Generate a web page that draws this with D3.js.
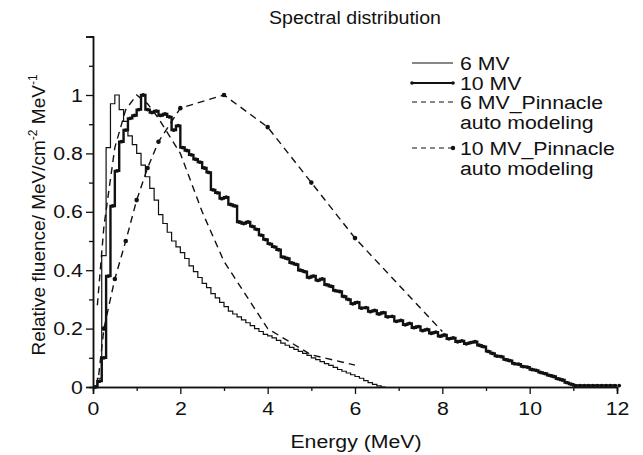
<!DOCTYPE html>
<html><head><meta charset="utf-8">
<script src="https://cdn.jsdelivr.net/npm/d3@7"></script>
<style>body{margin:0;background:#fff;} text{font-family:"Liberation Sans",Arial,sans-serif;fill:#111;}</style>
</head><body><svg id="c" width="643" height="455"></svg>
<script>
// ---- data ----
const xTicks = [0, 2, 4, 6, 8, 10, 12];
const yTicks = [0, 0.2, 0.4, 0.6, 0.8, 1, 1.2];
const yTickLabels = ["0", "0.2", "0.4", "0.6", "0.8", "1", ""];
const seriesNames = ["6 MV", "10 MV", "6 MV_Pinnacle|auto modeling", "10 MV_Pinnacle|auto modeling"];

// 6 MV measured (bins of 0.1 MeV starting at 0)
const e6 = d3.range(0, 6.75, 0.1).map(v => +v.toFixed(2));
const mv6 = [0, 0.03, 0.45, 0.82, 0.97, 1.0, 0.95, 0.91, 0.86, 0.83,
  0.80, 0.76, 0.72, 0.68, 0.64, 0.59, 0.56, 0.53, 0.50, 0.48,
  0.46, 0.44, 0.415, 0.395, 0.375, 0.355, 0.34, 0.32, 0.305, 0.29,
  0.275, 0.26, 0.25, 0.24, 0.23, 0.22, 0.21, 0.20, 0.19, 0.18,
  0.175, 0.168, 0.16, 0.15, 0.143, 0.136, 0.129, 0.122, 0.115, 0.108,
  0.10, 0.094, 0.087, 0.08, 0.074, 0.067, 0.06, 0.054, 0.048, 0.042,
  0.036, 0.03, 0.022, 0.015, 0.009, 0.004, 0, 0];

// 10 MV measured (bins of 0.1 MeV starting at 0)
const e10 = d3.range(0, 12.05, 0.1).map(v => +v.toFixed(2));
const mv10 = [0, 0.02, 0.10, 0.38, 0.62, 0.74, 0.84, 0.88, 0.92, 0.93,
  0.95, 1.0, 0.95, 0.94, 0.945, 0.93, 0.935, 0.925, 0.88, 0.895,
  0.82, 0.81, 0.795, 0.78, 0.77, 0.75, 0.735, 0.675, 0.665, 0.645,
  0.65, 0.625, 0.62, 0.565, 0.56, 0.565, 0.55, 0.54, 0.52, 0.505,
  0.49, 0.48, 0.47, 0.445, 0.44, 0.425, 0.42, 0.40, 0.395, 0.375,
  0.38, 0.365, 0.37, 0.35, 0.345, 0.33, 0.327, 0.31, 0.30, 0.285,
  0.29, 0.27, 0.272, 0.258, 0.262, 0.25, 0.255, 0.24, 0.242, 0.225,
  0.228, 0.213, 0.218, 0.203, 0.207, 0.193, 0.197, 0.184, 0.188, 0.174,
  0.178, 0.165, 0.168, 0.155, 0.158, 0.148, 0.152, 0.155, 0.143, 0.138,
  0.122, 0.115, 0.106, 0.104, 0.094, 0.09, 0.08, 0.078, 0.07, 0.068,
  0.06, 0.057, 0.05, 0.046, 0.04, 0.036, 0.028, 0.024, 0.015, 0.01,
  0.005, 0.005, 0.005, 0.005, 0.005, 0.005, 0.005, 0.005, 0.005, 0.005, 0.005];

// Pinnacle auto-modeling spectra
const eP6 = [0.1, 0.25, 0.5, 0.75, 1.0, 1.25, 1.5, 2, 2.5, 3, 4, 5, 6];
const p6 = [0.28, 0.55, 0.82, 0.95, 1.0, 0.97, 0.92, 0.80, 0.60, 0.43, 0.20, 0.11, 0.075];
const eP10 = [0.1, 0.25, 0.5, 0.75, 1.0, 1.25, 1.5, 2, 3, 4, 5, 6, 8];
const p10 = [0.0, 0.2, 0.37, 0.50, 0.64, 0.75, 0.84, 0.955, 1.0, 0.89, 0.70, 0.51, 0.19];

// ---- chart ----
const SX = 1.12; // horizontal stretch of the lettering
const svg = d3.select("#c");
const x = d3.scaleLinear().domain([0, 12]).range([93, 617]);
const y = d3.scaleLinear().domain([0, 1.2]).range([387, 36.6]);

const xAxis = d3.axisBottom(x).tickValues(xTicks).tickSize(7).tickPadding(8).tickFormat(d3.format("d"));
const xMinor = d3.axisBottom(x).tickValues(d3.range(1, 12, 2)).tickSize(4).tickFormat("");
const yAxis = d3.axisLeft(y).tickValues(yTicks).tickSize(7).tickPadding(2).tickFormat((d, i) => yTickLabels[i]);
const yMinor = d3.axisLeft(y).tickValues([0.1, 0.3, 0.5, 0.7, 0.9, 1.1]).tickSize(4).tickFormat("");

function style(g) {
  g.select(".domain").attr("stroke", "#111").attr("stroke-width", 1.5);
  g.selectAll(".tick line").attr("stroke", "#111").attr("stroke-width", 1.3);
  g.selectAll(".tick text").style("font-size", "19px").attr("fill", "#111")
    .style("font-family", "Liberation Sans, Arial, sans-serif")
    .attr("transform", `scale(${SX},1)`);
}
svg.append("g").attr("transform", "translate(0,387)").call(xMinor).call(style);
svg.append("g").attr("transform", "translate(0,387)").call(xAxis).call(style);
svg.append("g").attr("transform", "translate(93,0)").call(yMinor).call(style);
svg.append("g").attr("transform", "translate(93,0)").call(yAxis).call(style);

// series
const step = d3.line().curve(d3.curveStepAfter);
const lin = d3.line();
const pts = (xs, ys) => xs.map((e, i) => [x(e), y(ys[i])]);

svg.append("path").attr("d", step(pts(e6, mv6))).attr("fill", "none")
  .attr("stroke", "#111").attr("stroke-width", 1.2);

svg.append("path").attr("d", lin(pts(eP6, p6))).attr("fill", "none")
  .attr("stroke", "#111").attr("stroke-width", 1.4).attr("stroke-dasharray", "7,5");

svg.append("path").attr("d", lin(pts(eP10, p10))).attr("fill", "none")
  .attr("stroke", "#111").attr("stroke-width", 1.4).attr("stroke-dasharray", "7,5");
svg.append("g").selectAll("circle").data(pts(eP10, p10).slice(1, -1)).join("circle")
  .attr("cx", d => d[0]).attr("cy", d => d[1]).attr("r", 2.3).attr("fill", "#111");

svg.append("path").attr("d", step(pts(e10, mv10))).attr("fill", "none")
  .attr("stroke", "#111").attr("stroke-width", 2.4);
const half = (x(0.1) - x(0)) / 2;
svg.append("g").selectAll("circle").data(pts(e10, mv10).map(p => [p[0] + half, p[1]])).join("circle")
  .attr("cx", d => d[0]).attr("cy", d => d[1]).attr("r", 1.9).attr("fill", "#111");

// text helper with horizontal stretch
function htext(px, py, str, size, anchor) {
  return svg.append("g").attr("transform", `translate(${px},${py}) scale(${SX},1)`)
    .append("text").attr("text-anchor", anchor || "start").style("font-size", size + "px").text(str);
}
htext(355, 24, "Spectral distribution", 17.5, "middle");
htext(356, 448, "Energy (MeV)", 19, "middle");

const yl = svg.append("text").attr("transform", "translate(45,215) rotate(-90)")
  .attr("text-anchor", "middle").style("font-size", "19px");
yl.append("tspan").text("Relative fluence/ MeV/cm");
yl.append("tspan").attr("dy", -8).style("font-size", "12px").text("-2");
yl.append("tspan").attr("dy", 8).text(" MeV");
yl.append("tspan").attr("dy", -8).style("font-size", "12px").text("-1");

// legend
const legY = [63, 83, 102, 148];
const lg = svg.append("g");
seriesNames.forEach((name, i) => {
  const yy = legY[i];
  const ln = lg.append("line").attr("x1", 412).attr("x2", 453).attr("y1", yy).attr("y2", yy)
    .attr("stroke", "#111").attr("stroke-width", i === 1 ? 2 : 1.2);
  if (i >= 2) ln.attr("stroke-dasharray", "5,4");
  if (i === 1) {
    lg.append("circle").attr("cx", 412).attr("cy", yy).attr("r", 1.8).attr("fill", "#111");
    lg.append("circle").attr("cx", 453).attr("cy", yy).attr("r", 1.8).attr("fill", "#111");
  }
  if (i === 3) lg.append("circle").attr("cx", 453).attr("cy", yy).attr("r", 2.2).attr("fill", "#111");
  name.split("|").forEach((t, j) => htext(460, yy + 7 + j * 20, t, 19));
});
</script></body></html>
